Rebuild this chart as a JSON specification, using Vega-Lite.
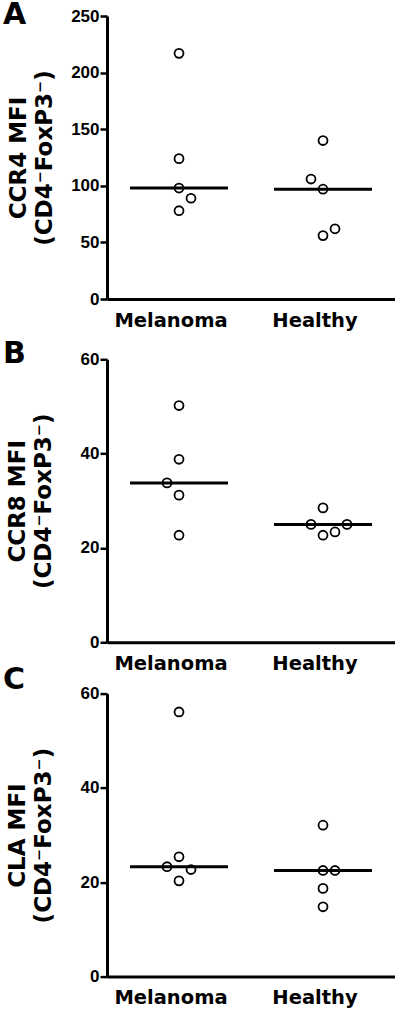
{
  "$schema": "https://vega.github.io/schema/vega-lite/v6.json",
  "padding": {"left": 2, "top": 0, "right": 0, "bottom": 0},
  "background": "white",
  "datasets": {
    "cells": [
      {"panel": "A", "group": "Melanoma", "value": 217, "slot": 0},
      {"panel": "A", "group": "Melanoma", "value": 124, "slot": 0},
      {"panel": "A", "group": "Melanoma", "value": 98, "slot": 0},
      {"panel": "A", "group": "Melanoma", "value": 89, "slot": 1},
      {"panel": "A", "group": "Melanoma", "value": 78, "slot": 0},
      {"panel": "A", "group": "Healthy", "value": 140, "slot": 0},
      {"panel": "A", "group": "Healthy", "value": 106, "slot": -1},
      {"panel": "A", "group": "Healthy", "value": 97, "slot": 0},
      {"panel": "A", "group": "Healthy", "value": 62, "slot": 1},
      {"panel": "A", "group": "Healthy", "value": 56, "slot": 0},
      {"panel": "B", "group": "Melanoma", "value": 50.2, "slot": 0},
      {"panel": "B", "group": "Melanoma", "value": 38.8, "slot": 0},
      {"panel": "B", "group": "Melanoma", "value": 33.8, "slot": -1},
      {"panel": "B", "group": "Melanoma", "value": 31.2, "slot": 0},
      {"panel": "B", "group": "Melanoma", "value": 22.7, "slot": 0},
      {"panel": "B", "group": "Healthy", "value": 28.5, "slot": 0},
      {"panel": "B", "group": "Healthy", "value": 25, "slot": -1},
      {"panel": "B", "group": "Healthy", "value": 25, "slot": 2},
      {"panel": "B", "group": "Healthy", "value": 23.4, "slot": 1},
      {"panel": "B", "group": "Healthy", "value": 22.7, "slot": 0},
      {"panel": "C", "group": "Melanoma", "value": 56.1, "slot": 0},
      {"panel": "C", "group": "Melanoma", "value": 25.4, "slot": 0},
      {"panel": "C", "group": "Melanoma", "value": 23.3, "slot": -1},
      {"panel": "C", "group": "Melanoma", "value": 22.7, "slot": 1},
      {"panel": "C", "group": "Melanoma", "value": 20.3, "slot": 0},
      {"panel": "C", "group": "Healthy", "value": 32.1, "slot": 0},
      {"panel": "C", "group": "Healthy", "value": 22.5, "slot": 0},
      {"panel": "C", "group": "Healthy", "value": 22.5, "slot": 1},
      {"panel": "C", "group": "Healthy", "value": 18.7, "slot": 0},
      {"panel": "C", "group": "Healthy", "value": 14.8, "slot": 0}
    ]
  },
  "data": {"name": "cells"},
  "config": {
    "view": {"stroke": null},
    "axis": {"grid": false, "domainColor": "black", "domainWidth": 3, "tickColor": "black"},
    "axisX": {
      "ticks": false, "labelAngle": 0, "labelFont": "DejaVu Sans", "labelFontWeight": "bold",
      "labelFontSize": 19.5, "labelColor": "black", "labelPadding": 12, "labelOffset": -8, "title": null
    },
    "axisY": {
      "tickSize": 7, "tickWidth": 2.5, "labelFont": "Liberation Sans", "labelFontWeight": "bold",
      "labelFontSize": 17, "labelColor": "black", "labelPadding": 1,
      "titleFont": "DejaVu Sans", "titleFontWeight": "bold", "titleFontSize": 23, "titleColor": "black",
      "titleLineHeight": 26
    },
    "title": {"font": "DejaVu Sans", "fontWeight": "bold", "fontSize": 30, "color": "black", "anchor": "start", "frame": "bounds", "dx": -4}
  },
  "spacing": 8.3,
  "vconcat": [
    {
      "title": {"text": "A", "offset": -23.3},
      "width": 288, "height": 283,
      "transform": [{"filter": "datum.panel == 'A'"}],
      "layer": [
        {
          "mark": {"type": "point", "shape": "circle", "filled": false, "stroke": "black", "strokeWidth": 1.8, "size": 80, "opacity": 1},
          "encoding": {
            "x": {"field": "group", "type": "nominal", "sort": ["Melanoma", "Healthy"], "scale": {"paddingInner": 0.2, "paddingOuter": 0.1}},
            "xOffset": {"field": "slot", "type": "quantitative", "scale": {"domain": [-2, 2], "range": [33.6, 81.6]}},
            "y": {"field": "value", "type": "quantitative", "scale": {"domain": [0, 250], "nice": false}, "axis": {"values": [0, 50, 100, 150, 200, 250], "titlePadding": 14.6, "title": ["CCR4 MFI", "(CD4⁻FoxP3⁻)"]}}
          }
        },
        {
          "mark": {"type": "tick", "color": "black", "thickness": 3, "size": 98, "opacity": 1},
          "encoding": {
            "x": {"field": "group", "type": "nominal", "sort": ["Melanoma", "Healthy"]},
            "y": {"aggregate": "median", "field": "value", "type": "quantitative"}
          }
        }
      ]
    },
    {
      "spacing": -8.7,
      "vconcat": [
        {
          "title": {"text": "B", "offset": -18.3},
          "width": 288, "height": 283,
          "transform": [{"filter": "datum.panel == 'B'"}],
          "layer": [
            {
              "mark": {"type": "point", "shape": "circle", "filled": false, "stroke": "black", "strokeWidth": 1.8, "size": 80, "opacity": 1},
              "encoding": {
                "x": {"field": "group", "type": "nominal", "sort": ["Melanoma", "Healthy"], "scale": {"paddingInner": 0.2, "paddingOuter": 0.1}},
                "xOffset": {"field": "slot", "type": "quantitative", "scale": {"domain": [-2, 2], "range": [33.6, 81.6]}},
                "y": {"field": "value", "type": "quantitative", "scale": {"domain": [0, 60], "nice": false}, "axis": {"values": [0, 20, 40, 60], "titlePadding": 24.1, "title": ["CCR8 MFI", "(CD4⁻FoxP3⁻)"]}}
              }
            },
            {
              "mark": {"type": "tick", "color": "black", "thickness": 3, "size": 98, "opacity": 1},
              "encoding": {
                "x": {"field": "group", "type": "nominal", "sort": ["Melanoma", "Healthy"]},
                "y": {"aggregate": "median", "field": "value", "type": "quantitative"}
              }
            }
          ]
        },
        {
          "title": {"text": "C", "offset": -10.3},
          "width": 288, "height": 283,
          "transform": [{"filter": "datum.panel == 'C'"}],
          "layer": [
            {
              "mark": {"type": "point", "shape": "circle", "filled": false, "stroke": "black", "strokeWidth": 1.8, "size": 80, "opacity": 1},
              "encoding": {
                "x": {"field": "group", "type": "nominal", "sort": ["Melanoma", "Healthy"], "scale": {"paddingInner": 0.2, "paddingOuter": 0.1}},
                "xOffset": {"field": "slot", "type": "quantitative", "scale": {"domain": [-2, 2], "range": [33.6, 81.6]}},
                "y": {"field": "value", "type": "quantitative", "scale": {"domain": [0, 60], "nice": false}, "axis": {"values": [0, 20, 40, 60], "titlePadding": 24.1, "title": ["CLA MFI", "(CD4⁻FoxP3⁻)"]}}
              }
            },
            {
              "mark": {"type": "tick", "color": "black", "thickness": 3, "size": 98, "opacity": 1},
              "encoding": {
                "x": {"field": "group", "type": "nominal", "sort": ["Melanoma", "Healthy"]},
                "y": {"aggregate": "median", "field": "value", "type": "quantitative"}
              }
            }
          ]
        }
      ]
    }
  ]
}
